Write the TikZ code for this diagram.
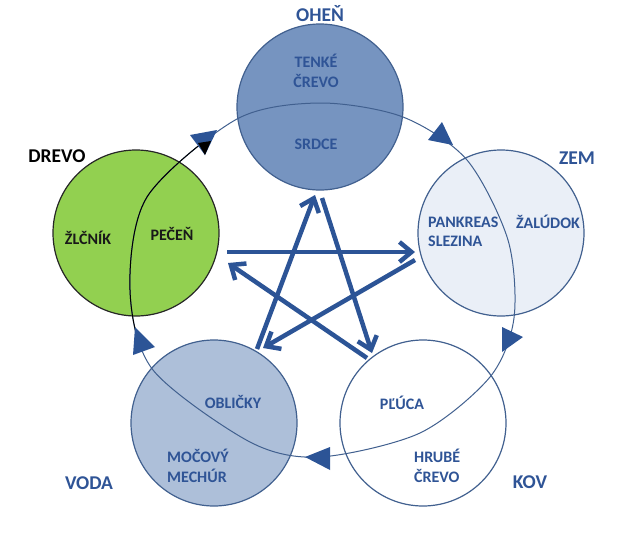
\documentclass[tikz,border=0pt]{standalone}
\usepackage{fontspec}
\setmainfont{Carlito}
\usetikzlibrary{arrows.meta}
\definecolor{lineblue}{RGB}{65,96,143}
\definecolor{textblue}{RGB}{47,84,150}
\definecolor{starblue}{RGB}{44,84,150}
\definecolor{fireblue}{RGB}{118,148,192}
\definecolor{woodgreen}{RGB}{146,208,80}
\definecolor{earthblue}{RGB}{234,239,247}
\definecolor{waterblue}{RGB}{173,191,217}
\begin{document}
\begin{tikzpicture}[x=1pt,y=-1pt,
    element/.style={circle,draw=lineblue,line width=1.2pt,minimum size=166pt,inner sep=0pt},
    title/.style={font=\fontsize{19.5}{22}\selectfont\bfseries,text=textblue,inner sep=0pt},
    organ/.style={font=\fontsize{16}{19.5}\selectfont\bfseries,text=textblue,inner sep=0pt},
    star/.style={starblue,line width=4.5pt,-{Straight Barb[length=12pt,width=20pt]}},
    cyclehead/.style={fill=starblue}]
    \useasboundingbox (0,0) rectangle (627,536);

    % the five elements
    \node[element,fill=fireblue] (ohen) at (320,107) {};
    \node[element,fill=woodgreen,draw=black!85] (drevo) at (136,233) {};
    \node[element,fill=earthblue] (zem) at (501,233) {};
    \node[element,fill=waterblue] (voda) at (214,423) {};
    \node[element,fill=white] (kov) at (423,423) {};

    % generating cycle
    \def\cyclepath{plot[smooth cycle] coordinates {(320,103) (403,117) (467,160)
        (508,240) (514,318) (490,377) (420,433) (320,457) (250,442) (153,370)
        (130,290) (147,197) (237,119)}}
    \draw[lineblue,line width=1pt] \cyclepath;
    \begin{scope}
        \clip (100,145) rectangle (215,335);
        \draw[black,line width=1pt] \cyclepath;
    \end{scope}
    \fill[cyclehead] (190,135) -- (217,130) -- (205,155) -- cycle;
    \fill[black] (198,143) -- (211,141) -- (205,155) -- cycle;
    \fill[cyclehead] (428,140) -- (442,122) -- (453,145) -- cycle;
    \fill[cyclehead] (502,327) -- (502,352) -- (523,337) -- cycle;
    \fill[cyclehead] (305,457) -- (330,447) -- (330,470) -- cycle;
    \fill[cyclehead] (135,327) -- (133,355) -- (155,347) -- cycle;

    % controlling star
    \coordinate (s1) at (227,252); \coordinate (t1) at (415,252);
    \coordinate (s2) at (415,260); \coordinate (t2) at (263,348);
    \coordinate (s3) at (257,349); \coordinate (t3) at (315,195);
    \coordinate (s4) at (322,198); \coordinate (t4) at (372,353);
    \coordinate (s5) at (367,358); \coordinate (t5) at (228,263);
    \foreach \i in {1,...,5}
        \draw[star] (s\i) -- (t\i);

    % labels
    \node[title] (ohen-t) at (320,14) {OHEŇ};
    \node[title] (zem-t) at (577,158) {ZEM};
    \node[title,text=black] (drevo-t) at (57,156) {DREVO};
    \node[title] (voda-t) at (89,483) {VODA};
    \node[title] (kov-t) at (530,482) {KOV};

    \node[organ,align=center] (tenke) at (316,71) {TENKÉ\\ČREVO};
    \node[organ] (srdce) at (316,144) {SRDCE};
    \node[organ,text=black!90] (zlcnik) at (88,238) {ŽLČNÍK};
    \node[organ,text=black!90] (pecen) at (172,234) {PEČEŇ};
    \node[organ,align=left,anchor=west] (pankreas) at (428,232) {PANKREAS\\SLEZINA};
    \node[organ] (zaludok) at (548,222) {ŽALÚDOK};
    \node[organ] (oblicky) at (233,402) {OBLIČKY};
    \node[organ,align=left,anchor=west] (mocovy) at (167,466) {MOČOVÝ\\MECHÚR};
    \node[organ] (pluca) at (402,403) {PĽÚCA};
    \node[organ,align=left,anchor=west] (hrube) at (414,466) {HRUBÉ\\ČREVO};
\end{tikzpicture}
\end{document}
